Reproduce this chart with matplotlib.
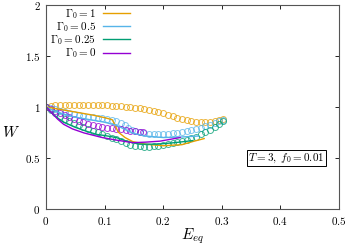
import matplotlib
matplotlib.use("Agg")
import matplotlib.pyplot as plt
from matplotlib.ticker import FuncFormatter

plt.rcParams['mathtext.fontset'] = 'cm'
plt.rcParams['font.family'] = ['DejaVu Serif']

# Colors per Gamma_0
labels = [r'$\Gamma_0 = 1$', r'$\Gamma_0 = 0.5$', r'$\Gamma_0 = 0.25$', r'$\Gamma_0 = 0$']
colors = ['#E69F00', '#56B4E9', '#009E73', '#9400D3']

# Circle series (open circles)
E_c1 = [0, 0.008, 0.016, 0.024, 0.032, 0.04, 0.048, 0.056, 0.064, 0.072, 0.08, 0.088, 0.096, 0.104,
        0.112, 0.12, 0.128, 0.136, 0.144, 0.152, 0.16, 0.168, 0.176, 0.184, 0.192, 0.2, 0.208, 0.216,
        0.224, 0.232, 0.24, 0.248, 0.256, 0.264, 0.272, 0.28, 0.288, 0.296, 0.302]
W_c1 = [1.0, 1.01, 1.02, 1.02, 1.02, 1.02, 1.02, 1.02, 1.02, 1.02, 1.02, 1.02, 1.02, 1.02,
        1.01, 1.01, 1.01, 1.0, 1.0, 0.99, 0.99, 0.98, 0.97, 0.96, 0.95, 0.94, 0.92, 0.91,
        0.89, 0.88, 0.87, 0.86, 0.855, 0.85, 0.85, 0.855, 0.865, 0.875, 0.885]

E_c2 = [0, 0.008, 0.016, 0.024, 0.032, 0.04, 0.048, 0.056, 0.064, 0.072, 0.08, 0.088, 0.096, 0.104,
        0.112, 0.12, 0.128, 0.134, 0.14, 0.146, 0.152, 0.16, 0.168, 0.176, 0.184, 0.192, 0.2, 0.208,
        0.216, 0.224, 0.232, 0.24, 0.248, 0.256, 0.264, 0.272, 0.28, 0.288, 0.296, 0.302]
W_c2 = [1.0, 0.99, 0.975, 0.96, 0.95, 0.94, 0.93, 0.92, 0.91, 0.905, 0.9, 0.895, 0.89, 0.88,
        0.87, 0.86, 0.845, 0.82, 0.795, 0.775, 0.76, 0.75, 0.74, 0.735, 0.73, 0.73, 0.73, 0.735,
        0.74, 0.745, 0.75, 0.76, 0.77, 0.78, 0.795, 0.81, 0.825, 0.845, 0.86, 0.875]

E_c3 = [0, 0.008, 0.016, 0.024, 0.032, 0.04, 0.048, 0.056, 0.064, 0.072, 0.08, 0.088, 0.096, 0.104,
        0.112, 0.12, 0.128, 0.136, 0.144, 0.152, 0.16, 0.168, 0.176, 0.184, 0.192, 0.2, 0.208, 0.216,
        0.224, 0.232, 0.24, 0.248, 0.256, 0.264, 0.272, 0.28, 0.288, 0.296, 0.302]
W_c3 = [1.0, 0.97, 0.94, 0.91, 0.885, 0.86, 0.84, 0.82, 0.80, 0.78, 0.765, 0.75, 0.735, 0.72,
        0.70, 0.685, 0.665, 0.645, 0.63, 0.62, 0.615, 0.61, 0.61, 0.615, 0.62, 0.625, 0.635, 0.645,
        0.655, 0.67, 0.68, 0.695, 0.71, 0.73, 0.75, 0.77, 0.80, 0.83, 0.86]

E_c4 = [0, 0.008, 0.016, 0.024, 0.032, 0.04, 0.048, 0.056, 0.064, 0.072, 0.08, 0.088, 0.096, 0.104,
        0.112, 0.12, 0.128, 0.136, 0.144, 0.152, 0.16, 0.166]
W_c4 = [1.0, 0.98, 0.96, 0.94, 0.92, 0.90, 0.88, 0.865, 0.85, 0.835, 0.82, 0.81, 0.80, 0.795,
        0.79, 0.785, 0.78, 0.775, 0.765, 0.76, 0.755, 0.75]

# Line series
E_l1 = [0, 0.02, 0.05, 0.08, 0.1, 0.113, 0.118, 0.123, 0.135, 0.148, 0.17, 0.2, 0.232, 0.25, 0.27]
W_l1 = [1.0, 0.98, 0.95, 0.92, 0.895, 0.875, 0.82, 0.755, 0.70, 0.66, 0.635, 0.62, 0.63, 0.66, 0.69]

E_l2 = [0, 0.01, 0.03, 0.05, 0.08, 0.1, 0.12, 0.135, 0.15, 0.17, 0.2, 0.23, 0.26]
W_l2 = [1.0, 0.97, 0.93, 0.9, 0.87, 0.85, 0.82, 0.78, 0.74, 0.715, 0.70, 0.705, 0.715]

E_l3 = [0, 0.01, 0.02, 0.03, 0.05, 0.07, 0.087, 0.1, 0.12, 0.14, 0.16, 0.19, 0.22, 0.25]
W_l3 = [1.0, 0.94, 0.89, 0.85, 0.80, 0.76, 0.73, 0.72, 0.70, 0.66, 0.635, 0.635, 0.65, 0.67]

E_l4 = [0, 0.01, 0.02, 0.03, 0.045, 0.065, 0.096, 0.12, 0.148, 0.17, 0.195, 0.229]
W_l4 = [1.0, 0.94, 0.88, 0.83, 0.785, 0.745, 0.70, 0.675, 0.65, 0.655, 0.665, 0.70]

circ_E = [E_c1, E_c2, E_c3, E_c4]
circ_W = [W_c1, W_c2, W_c3, W_c4]
line_E = [E_l1, E_l2, E_l3, E_l4]
line_W = [W_l1, W_l2, W_l3, W_l4]

x_ticks = [0, 0.1, 0.2, 0.3, 0.4, 0.5]
y_ticks = [0, 0.5, 1, 1.5, 2]

fig = plt.figure(figsize=(3.47, 2.45), dpi=100)
ax = fig.add_axes([0.1326, 0.147, 0.844, 0.833])

for E, W, c in zip(circ_E, circ_W, colors):
    ax.plot(E, W, linestyle='none', marker='o', markersize=4.3, markerfacecolor='none',
            markeredgecolor=c, markeredgewidth=0.7, alpha=0.75)

for E, W, c, lab in zip(line_E, line_W, colors, labels):
    ax.plot(E, W, color=c, linewidth=1.0, label=lab)

ax.set_xlim(0, 0.5)
ax.set_ylim(0, 2)
ax.set_xticks(x_ticks)
ax.set_yticks(y_ticks)
fmt = FuncFormatter(lambda v, p: f'${v:g}$')
ax.xaxis.set_major_formatter(fmt)
ax.yaxis.set_major_formatter(fmt)
ax.tick_params(direction='in', top=True, right=True, length=3, width=0.6, labelsize=8,
               colors='black', pad=4)
for s in ax.spines.values():
    s.set_linewidth(0.8)
    s.set_color('#555555')

ax.set_xlabel(r'$E_{eq}$', fontsize=11)
ax.xaxis.set_label_coords(0.5, -0.085)
ax.set_ylabel(r'$W$', fontsize=11, rotation=0)
ax.yaxis.set_label_coords(-0.12, 0.34)

leg = ax.legend(loc='upper left', markerfirst=False, frameon=False, fontsize=8,
                handlelength=2.4, handletextpad=0.6, labelspacing=-0.06,
                borderaxespad=0.0, bbox_to_anchor=(0.0, 1.012))

ax.text(0.475, 0.50, r'$T = 3,\ f_0 = 0.01$', fontsize=8, ha='right', va='center',
        bbox=dict(boxstyle='square,pad=0.12', facecolor='white', edgecolor='black', linewidth=0.7))

fig.savefig('out.png', dpi=100)
